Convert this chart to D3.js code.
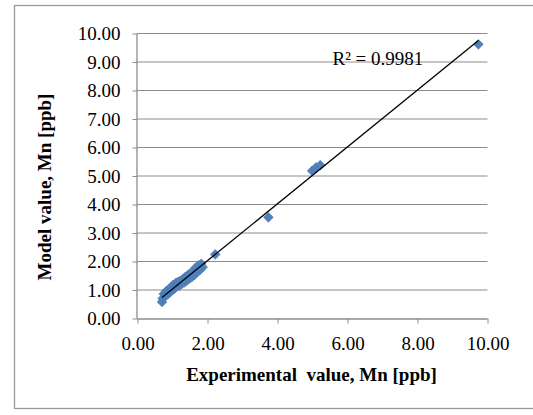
<!DOCTYPE html>
<html>
<head>
<meta charset="utf-8">
<script src="https://cdn.jsdelivr.net/npm/d3@7"></script>
<style>
  body { margin: 0; background: #fff; }
  svg text { font-family: "Liberation Serif", "Times New Roman", serif !important; fill: #000; }
</style>
</head>
<body>
<div id="chart"></div>
<script>
// experimental vs model values, Mn [ppb]
const experimental = [0.70, 0.72, 0.75, 0.78, 0.80, 0.84, 0.86, 0.90, 0.93, 0.96, 1.00, 1.02, 1.06, 1.10, 1.12, 1.16, 1.20, 1.22, 1.26, 1.30, 1.33, 1.36, 1.40, 1.44, 1.48, 1.50, 1.55, 1.58, 1.62, 1.66, 1.70, 1.74, 1.78, 1.82, 1.86, 2.22, 3.74, 4.99, 5.10, 5.22, 9.74];
const model        = [0.58, 0.70, 0.86, 0.78, 0.92, 0.98, 0.84, 1.02, 0.92, 1.10, 1.00, 1.18, 1.05, 1.25, 1.12, 1.28, 1.15, 1.32, 1.22, 1.38, 1.26, 1.45, 1.32, 1.52, 1.40, 1.58, 1.45, 1.65, 1.52, 1.78, 1.62, 1.86, 1.70, 1.92, 1.80, 2.25, 3.55, 5.18, 5.30, 5.38, 9.62];
const tickValues = [0, 1, 2, 3, 4, 5, 6, 7, 8, 9, 10];
const xTickValues = [0, 2, 4, 6, 8, 10];
const r2Label = "R² = 0.9981";

(function(){
  const W = 533, H = 415;
  const margin = { top: 33.5, right: 45.5, bottom: 96.5, left: 137.5 },
      width = W - margin.left - margin.right,
      height = H - margin.top - margin.bottom;
  const fontSize = "19px";

  const root = d3.select("#chart").append("svg")
      .attr("width", W).attr("height", H);

  // outer chart border
  root.append("rect")
      .attr("x", 14.5).attr("y", 5.5)
      .attr("width", 540).attr("height", 403)
      .attr("fill", "none").attr("stroke", "#9a9a9a").attr("stroke-width", 1.3);

  const svg = root.append("g")
      .attr("transform", `translate(${margin.left},${margin.top})`);

  const x = d3.scaleLinear().domain([0, 10]).range([0, width]);
  const y = d3.scaleLinear().domain([0, 10]).range([height, 0]);

  // gridlines
  svg.append("g")
    .selectAll("line")
    .data(tickValues.slice(1))
    .enter().append("line")
      .attr("x1", 0).attr("x2", width)
      .attr("y1", d => y(d)).attr("y2", d => y(d))
      .attr("stroke", "#8c8c8c").attr("stroke-width", 1);

  // Y axis
  const yAxis = svg.append("g")
      .call(d3.axisLeft(y).tickValues(tickValues).tickFormat(d3.format(".2f")).tickSize(5).tickPadding(12));
  // X axis
  const xAxis = svg.append("g")
      .attr("transform", `translate(0,${height})`)
      .call(d3.axisBottom(x).tickValues(xTickValues).tickFormat(d3.format(".2f")).tickSize(5).tickPadding(13));

  [yAxis, xAxis].forEach(a => {
    a.attr("font-family", "Liberation Serif").attr("font-size", fontSize);
    a.select(".domain").attr("stroke", "#8c8c8c").attr("stroke-width", 1.3);
    a.selectAll(".tick line").attr("stroke", "#8c8c8c");
    a.selectAll(".tick text").attr("fill", "#000");
  });
  xAxis.select(".domain").attr("d", `M0,0.5H${width}`);
  yAxis.select(".domain").attr("d", `M-0.5,${height}V0`);

  // linear trendline (least squares)
  const n = experimental.length;
  const mx = d3.mean(experimental), my = d3.mean(model);
  let sxy = 0, sxx = 0;
  for (let i = 0; i < n; i++) {
    sxy += (experimental[i] - mx) * (model[i] - my);
    sxx += (experimental[i] - mx) ** 2;
  }
  const slope = sxy / sxx, icpt = my - slope * mx;
  const [x0, x1] = d3.extent(experimental);

  // points as diamonds
  svg.append("g")
    .selectAll("path")
    .data(experimental.map((e, i) => ({ e, m: model[i] })))
    .enter().append("path")
      .attr("d", d3.symbol(d3.symbolSquare, 48))
      .attr("transform", d => `translate(${x(d.e)},${y(d.m)}) rotate(45)`)
      .attr("fill", "#4f81bd").attr("stroke", "#4a7ab5").attr("stroke-width", 0.6);

  svg.append("line")
      .attr("x1", x(x0)).attr("y1", y(slope * x0 + icpt))
      .attr("x2", x(x1)).attr("y2", y(slope * x1 + icpt))
      .attr("stroke", "#000").attr("stroke-width", 1.3);

  // R² label
  svg.append("text")
      .attr("x", 195).attr("y", 31.5)
      .style("font-size", fontSize)
      .text(r2Label);

  // X axis label
  svg.append("text")
      .attr("text-anchor", "middle")
      .attr("x", 174)
      .attr("y", height + 62)
      .style("font-size", fontSize).style("font-weight", "bold")
      .attr("xml:space", "preserve")
      .text("Experimental  value, Mn [ppb]");

  // Y axis label
  svg.append("text")
      .attr("text-anchor", "middle")
      .attr("transform", "rotate(-90)")
      .attr("y", -86.5)
      .attr("x", -153.5)
      .style("font-size", fontSize).style("font-weight", "bold")
      .text("Model value, Mn [ppb]");
})();
</script>
</body>
</html>
